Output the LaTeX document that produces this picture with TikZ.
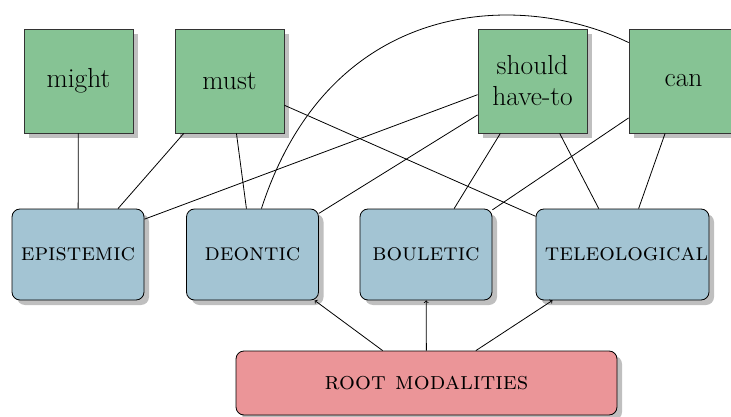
\documentclass[tikz,border=0pt]{standalone}
\usetikzlibrary{shadows}
\definecolor{verbgreen}{RGB}{134,195,148}
\definecolor{flavourblue}{RGB}{163,196,211}
\definecolor{rootred}{RGB}{235,149,152}
\begin{document}
\begin{tikzpicture}[x=1pt,y=-1pt,line width=0.8pt,
  boxshadow/.style={drop shadow={shadow xshift=5pt,shadow yshift=-5pt,opacity=1,fill=black!25}},
  verb/.style={draw=black!80,fill=verbgreen,minimum width=109pt,minimum height=104pt,
    inner sep=0pt,align=center,font=\fontsize{27.5}{31}\selectfont,boxshadow},
  flavour/.style={draw=black,fill=flavourblue,rounded corners=8pt,minimum width=132pt,
    minimum height=91pt,inner sep=0pt,font=\fontsize{24.5}{28}\selectfont\scshape,boxshadow},
  rootbox/.style={draw=black,fill=rootred,rounded corners=8pt,minimum width=381pt,
    minimum height=64pt,inner sep=0pt,font=\fontsize{25}{28}\selectfont\scshape,boxshadow},
  link/.style={draw=black},
  arrowlink/.style={draw=black,->}]
\useasboundingbox (0,0) rectangle (731,417);

% modal verbs
\node[verb] (might)  at (78.5,81)  {might};
\node[verb] (must)   at (229.5,81) {must};
\node[verb] (should) at (532.5,81) {should\\have-to};
\node[verb] (can)    at (683.5,81) {can};

% flavours of modality
\node[flavour] (epistemic)    at (78,254.5)  {epistemic};
\node[flavour] (deontic)      at (252.5,254.5) {deontic};
\node[flavour] (bouletic)     at (426,254.5) {bouletic};
\node[flavour,minimum width=173pt] (teleological) at (622.5,254.5) {\makebox[0pt]{\hspace{8pt}teleological}};

\node[rootbox] (root) at (426.5,383) {root modalities};

% verb--flavour links
\path[link] (might) -- (epistemic);
\path[link] (must) -- (epistemic);
\path[link] (must) -- (deontic);
\path[link] (must) -- (teleological);
\path[link] (should.194) -- (epistemic.28);
\path[link] (should) -- (deontic);
\path[link] (should) -- (bouletic);
\path[link] (should) -- (teleological);
\path[link] (can) -- (bouletic);
\path[link] (can) -- (teleological);
\path[link] (deontic.79) to[out=72,in=154,out distance=225pt,in distance=118pt] (can.145);

% root modalities
\path[arrowlink] (root) -- (deontic);
\path[arrowlink] (root) -- (bouletic);
\path[arrowlink] (root) -- (teleological);
\end{tikzpicture}
\end{document}
